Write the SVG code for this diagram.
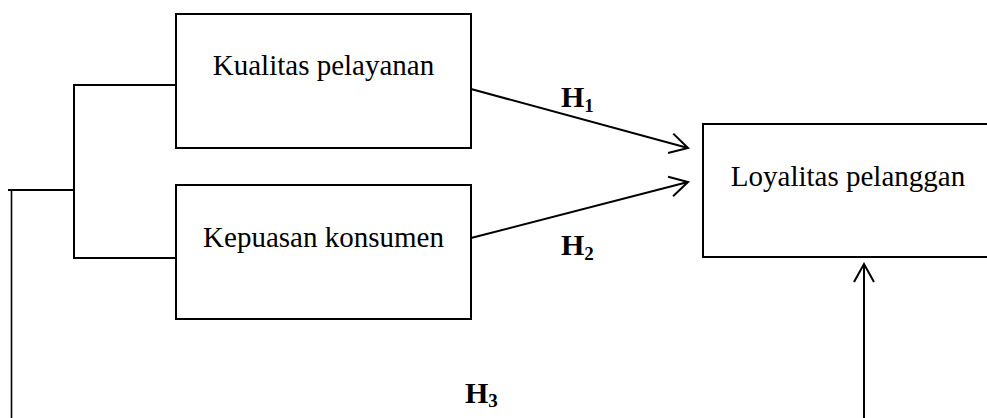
<svg xmlns="http://www.w3.org/2000/svg" width="987" height="418" viewBox="0 0 987 418">
  <style>
    .box { fill: #ffffff; stroke: #000000; stroke-width: 2; }
    .line { fill: none; stroke: #000000; stroke-width: 2; }
    .label { font-family: "Liberation Serif", "Times New Roman", serif; font-size: 29px; fill: #000000; text-anchor: middle; }
    .hyp { font-family: "Liberation Serif", "Times New Roman", serif; font-size: 30px; font-weight: bold; fill: #000000; }
    .sub { font-size: 19px; }
  </style>
  <defs>
    <marker id="open-arrow" markerUnits="userSpaceOnUse" markerWidth="24" markerHeight="24" viewBox="-20 -12 24 24" refX="0" refY="0" orient="auto">
      <path d="M-18,-10 L0,0 L-18,10" fill="none" stroke="#000000" stroke-width="2"/>
    </marker>
  </defs>

  <g id="connectors">
    <!-- bracket joining the two independent variables -->
    <path class="line" d="M176,85 H74 V258 H176"/>
    <path class="line" d="M74,190 H8"/>
    <path class="line" d="M11.5,190 V418" style="stroke-width:1.6"/>
    <!-- H1 and H2 -->
    <line class="line" x1="471" y1="89" x2="688" y2="148" marker-end="url(#open-arrow)"/>
    <line class="line" x1="471" y1="238" x2="688" y2="182" marker-end="url(#open-arrow)"/>
    <!-- H3 -->
    <line class="line" x1="864" y1="418" x2="864" y2="264" marker-end="url(#open-arrow)"/>
  </g>

  <g id="kualitas-pelayanan">
    <rect class="box" x="176" y="14" width="295" height="134"/>
    <text class="label" x="323.5" y="75">Kualitas pelayanan</text>
  </g>

  <g id="kepuasan-konsumen">
    <rect class="box" x="176" y="185" width="295" height="134"/>
    <text class="label" x="323.5" y="247">Kepuasan konsumen</text>
  </g>

  <g id="loyalitas-pelanggan">
    <rect class="box" x="703" y="124" width="300" height="133"/>
    <text class="label" x="848" y="186">Loyalitas pelanggan</text>
  </g>

  <g id="hypotheses">
    <text class="hyp" x="561" y="107">H<tspan class="sub" dy="5">1</tspan></text>
    <text class="hyp" x="561" y="255">H<tspan class="sub" dy="5">2</tspan></text>
    <text class="hyp" x="465" y="403">H<tspan class="sub" dy="4">3</tspan></text>
  </g>
</svg>
